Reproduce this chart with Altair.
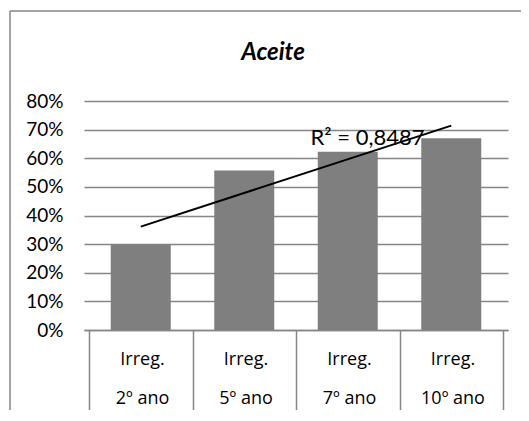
import json
import altair as alt
import pandas as pd

# ---- data ----
cat_line1 = ["Irreg.", "Irreg.", "Irreg.", "Irreg."]
cat_line2 = ["2º ano", "5º ano", "7º ano", "10º ano"]
values = [0.300, 0.557, 0.623, 0.670]
y_ticks = [0.0, 0.1, 0.2, 0.3, 0.4, 0.5, 0.6, 0.7, 0.8]
title_text = ["Aceite"]
r2_text = ["R² = 0,8487"]

idx = list(range(1, len(values) + 1))
df = pd.DataFrame({"idx": idx, "value": values})

# label placement (data coordinates) for the R² annotation
r2_df = pd.DataFrame({"x": [2.64], "y": [0.646], "t": r2_text})
title_df = pd.DataFrame({"t": title_text})

FONT = "Lato"
XFONT = "Open Sans"
GRID = "#868686"
BAR = "#7f7f7f"

# category labels drawn at the boundary ticks, shifted right by half a band
bounds = [i - 0.5 for i in idx] + [idx[-1] + 0.5]
expr = "''"
for i in reversed(range(len(idx))):
    expr = f"datum.value == {bounds[i]} ? {json.dumps([cat_line1[i], cat_line2[i]], ensure_ascii=False)} : ({expr})"

W, H = 424, 229
band_px = W / len(idx)

xscale = alt.Scale(domain=[0.5, len(idx) + 0.5], nice=False, zero=False)
yscale = alt.Scale(domain=[0, 0.8], nice=False)

x_axis = alt.Axis(
    values=bounds, tickCount=len(bounds) + 1, title=None, grid=False,
    tickSize=81, tickColor=GRID, tickWidth=1.5,
    domainColor=GRID, domainWidth=1.5,
    labelExpr=expr, labelOffset=band_px / 2, labelPadding=-61,
    labelBaseline="top", labelAlign="center", labelLineHeight=39,
    labelFlush=False, labelOverlap=False, labelBound=False,
    labelFont=XFONT, labelFontSize=18, labelColor="#000000")
y_axis = alt.Axis(
    values=y_ticks, tickCount=len(y_ticks) + 1, format=".0%", title=None,
    grid=True, gridColor=GRID, gridWidth=1.5,
    domain=False, ticks=False, labelPadding=21, labelOverlap=False,
    labelFont=FONT, labelFontSize=19, labelColor="#000000")

bars = alt.Chart(df).mark_bar(size=60, color=BAR).encode(
    x=alt.X("idx:Q", scale=xscale, axis=x_axis),
    y=alt.Y("value:Q", scale=yscale, axis=y_axis),
)

trend = alt.Chart(df).transform_regression("idx", "value").mark_line(
    color="#000000", strokeWidth=2
).encode(x=alt.X("idx:Q", scale=xscale, axis=x_axis),
         y=alt.Y("value:Q", scale=yscale, axis=y_axis))

r2 = alt.Chart(r2_df).mark_text(
    align="left", baseline="alphabetic", font=FONT, fontSize=22, color="#000000"
).encode(x=alt.X("x:Q", scale=xscale, axis=x_axis),
         y=alt.Y("y:Q", scale=yscale, axis=y_axis), text="t:N")

title = alt.Chart(title_df).mark_text(
    align="center", baseline="alphabetic", font=FONT, fontSize=24,
    fontWeight="bold", fontStyle="italic", color="#000000"
).encode(x=alt.value(189), y=alt.value(-41), text="t:N")

# outer chart frame: only its top and left edges fall inside the picture
frame_top = alt.Chart(alt.Data(values=[{}])).mark_rule(
    color=GRID, strokeWidth=1.5
).encode(x=alt.value(-74), x2=alt.value(440), y=alt.value(-90))
frame_left = alt.Chart(alt.Data(values=[{}])).mark_rule(
    color=GRID, strokeWidth=1.5
).encode(x=alt.value(-74), y=alt.value(-90), y2=alt.value(320))

chart = alt.layer(frame_top, frame_left, bars, trend, r2, title).properties(
    width=W, height=H,
    autosize=alt.AutoSizeParams(type="none"),
    padding={"left": 76, "top": 93, "right": 13, "bottom": 80},
).configure(background="white").configure_view(stroke=None)

chart.save("out.html", embed_options={"renderer": "svg", "actions": False})
